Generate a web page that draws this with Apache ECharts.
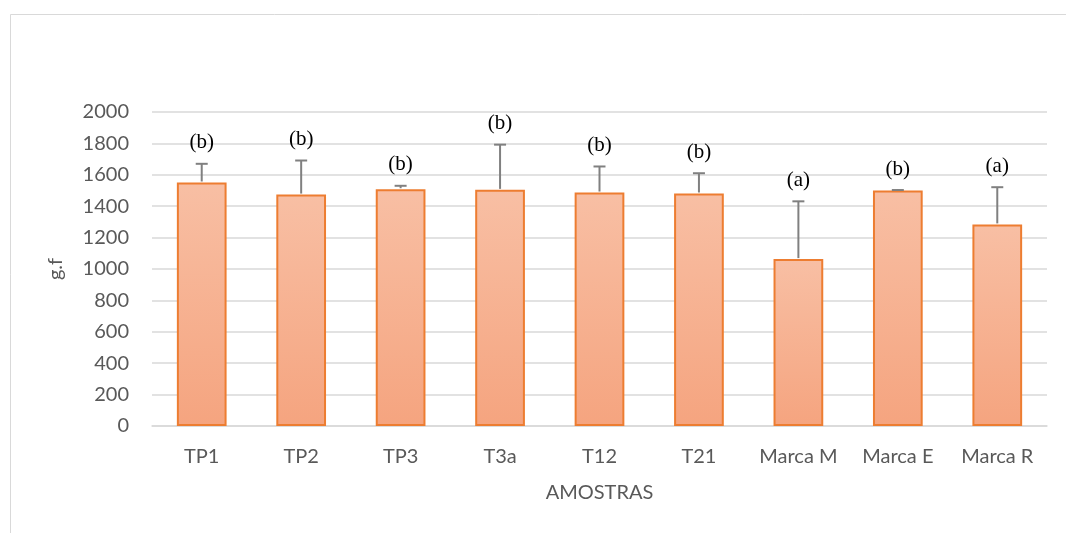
<!DOCTYPE html>
<html>
<head>
<meta charset="utf-8">
<script src="https://cdn.jsdelivr.net/npm/echarts@6/dist/echarts.min.js"></script>
<style>
  html, body { margin: 0; padding: 0; background: #ffffff; }
  #chart { width: 1066px; height: 533px; }
</style>
</head>
<body>
<div id="chart"></div>
<script>
// Amostras e valores médios (g.f) com desvio padrão e letras de significância
const categories = ['TP1', 'TP2', 'TP3', 'T3a', 'T12', 'T21', 'Marca M', 'Marca E', 'Marca R'];
const means = [1551, 1474, 1508, 1504, 1487, 1481, 1063, 1500, 1284];
const stdDev = [119, 217, 22, 288, 166, 129, 368, 3, 237];
const letters = ['(b)', '(b)', '(b)', '(b)', '(b)', '(b)', '(a)', '(b)', '(a)'];
const yTicks = { min: 0, max: 2000, interval: 200 };

const chart = echarts.init(document.getElementById('chart'));

const axisFont = { fontFamily: 'Lato', fontSize: 20, color: '#595959' };

chart.setOption({
  backgroundColor: '#ffffff',
  animation: false,
  graphic: [{
    type: 'rect',
    shape: { x: 10.5, y: 14.5, width: 1070, height: 530 },
    style: { fill: 'none', stroke: '#d9d9d9', lineWidth: 1 },
    silent: true
  }],
  grid: { left: 152, right: 19, top: 112, bottom: 107 },
  xAxis: {
    type: 'category',
    data: categories,
    name: 'AMOSTRAS',
    nameLocation: 'middle',
    nameGap: 57,
    nameTextStyle: { fontFamily: 'Lato', fontSize: 20, color: '#595959' },
    axisLine: { lineStyle: { color: '#d9d9d9', width: 1.5 } },
    axisTick: { show: false },
    axisLabel: Object.assign({ margin: 21, interval: 0 }, axisFont)
  },
  yAxis: {
    type: 'value',
    min: yTicks.min,
    max: yTicks.max,
    interval: yTicks.interval,
    name: 'g.f',
    nameLocation: 'middle',
    nameGap: 86,
    nameTextStyle: { fontFamily: 'Lato', fontSize: 20, color: '#595959' },
    axisLine: { show: false },
    axisTick: { show: false },
    axisLabel: Object.assign({ margin: 23, formatter: v => String(v) }, axisFont),
    splitLine: { lineStyle: { color: '#d9d9d9', width: 1.5 } }
  },
  series: [
    {
      type: 'bar',
      data: means,
      barWidth: '50%',
      itemStyle: {
        color: new echarts.graphic.LinearGradient(0, 0, 0, 1, [
          { offset: 0, color: '#f8bfa4' },
          { offset: 1, color: '#f5a47f' }
        ]),
        borderColor: '#ed7d31',
        borderWidth: 2
      },
      z: 2
    },
    {
      // Barras de erro (apenas desvio positivo) e letras acima
      type: 'custom',
      data: means.map((m, i) => [i, m, stdDev[i], letters[i]]),
      renderItem: function (params, api) {
        const i = api.value(0);
        const base = api.coord([i, api.value(1)]);
        const top = api.coord([i, api.value(1) + api.value(2)]);
        const cap = 6;
        const stroke = { stroke: '#808080', lineWidth: 2 };
        return {
          type: 'group',
          children: [
            { type: 'line', shape: { x1: base[0], y1: base[1] - 1, x2: top[0], y2: top[1] }, style: stroke },
            { type: 'line', shape: { x1: top[0] - cap, y1: top[1], x2: top[0] + cap, y2: top[1] }, style: stroke },
            {
              type: 'text',
              style: {
                text: api.value(3),
                x: top[0],
                y: top[1] - 21,
                align: 'center',
                verticalAlign: 'middle',
                fontFamily: 'Liberation Serif',
                fontSize: 21,
                fill: '#000000'
              }
            }
          ]
        };
      },
      z: 3
    }
  ]
});
</script>
</body>
</html>
